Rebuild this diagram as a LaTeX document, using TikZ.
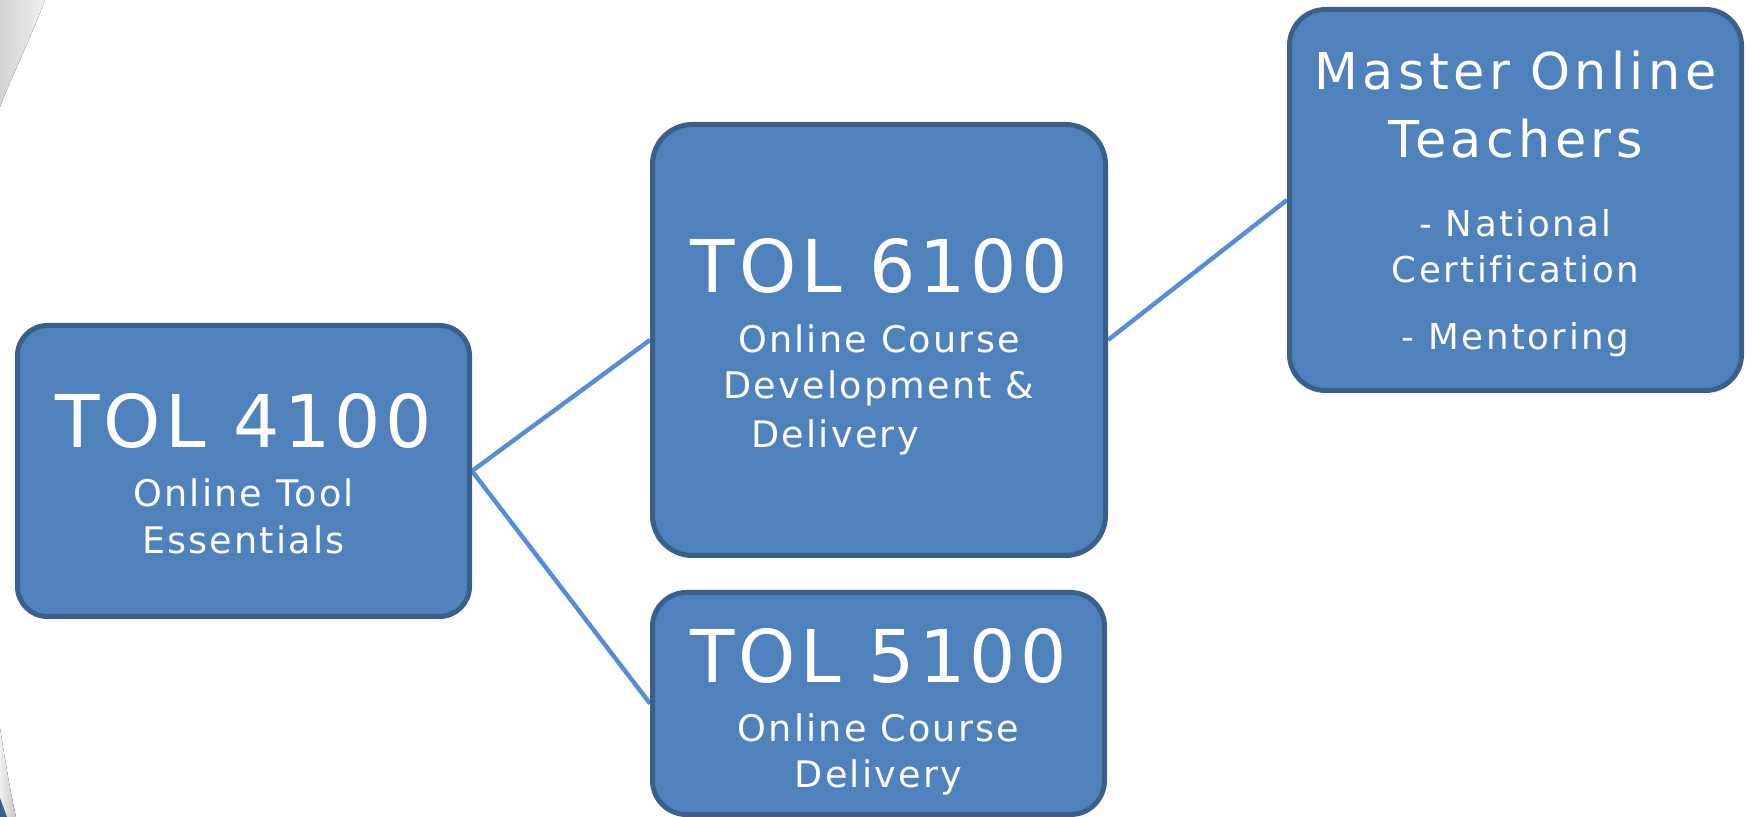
\documentclass[tikz,border=0pt]{standalone}
\usepackage{fontspec}
\setmainfont{DejaVu Sans}[LetterSpace=6,Ligatures=NoCommon]
\usetikzlibrary{backgrounds}
\definecolor{boxfill}{HTML}{4F81BD}
\definecolor{boxline}{HTML}{3A5F8B}
\definecolor{connblue}{HTML}{558ED5}
\begin{document}
\begin{tikzpicture}[x=0.5pt,y=-0.5pt,
  box/.style={draw=boxline, fill=boxfill, line width=2.5pt, inner sep=0pt, minimum width=226pt},
  big/.style={text=white, anchor=base, inner sep=0pt, font=\fontsize{36.4}{40}\selectfont},
  sub/.style={text=white, anchor=base, inner sep=0pt, font=\fontsize{18.3}{22}\selectfont},
  mtitle/.style={text=white, anchor=base, inner sep=0pt, font=\fontsize{25.4}{30}\selectfont\addfontfeatures{LetterSpace=8.6}},
  bullet/.style={text=white, anchor=base, inner sep=0pt, font=\fontsize{17.8}{22}\selectfont\addfontfeatures{LetterSpace=7}},
  conn/.style={draw=connblue, line width=2.2pt}]
\useasboundingbox (0,0) rectangle (1752,817);
% boxes
\node[box, rounded corners=15pt, minimum width=226pt, minimum height=145.5pt] (b1) at (243.5,471) {};
\node[box, rounded corners=20pt, minimum width=226.5pt, minimum height=215.5pt] (b2) at (879,340) {};
\node[box, rounded corners=17pt, minimum width=226pt, minimum height=111pt] (b3) at (878.5,703.5) {};
\node[box, rounded corners=18pt, minimum width=226pt, minimum height=190.5pt] (b4) at (1515.5,200) {};
% texts
\node[big] (t1a) at (243.5,448) {TOL 4100};
\node[sub] (t1b) at (243.5,507) {Online Tool};
\node[sub] (t1c) at (243.5,554) {Essentials};
\node[big] (t2a) at (879,293) {TOL 6100};
\node[sub] (t2b) at (879,353) {Online Course};
\node[sub] (t2c) at (879,399) {Development \&};
\node[sub, anchor=base west] (t2d) at (751,448) {Delivery};
\node[big] (t3a) at (878.5,683) {TOL 5100};
\node[sub] (t3b) at (878.5,742) {Online Course};
\node[sub] (t3c) at (878.5,788) {Delivery};
\node[mtitle] (t4a) at (1515.5,90) {Master Online};
\node[mtitle] (t4b) at (1515.5,158) {Teachers};
\node[bullet] (t4c) at (1515.5,237) {- National};
\node[bullet] (t4d) at (1515.5,283) {Certif{}ication};
\node[bullet] (t4e) at (1515.5,350) {- Mentoring};
\begin{scope}[on background layer]
  \fill[left color=gray!35, right color=gray!12] (0,0) -- (45,0) .. controls (30,40) and (12,75) .. (0,107) -- cycle;
  \fill[left color=gray!12, right color=gray!45] (0,728) .. controls (5,760) and (10,790) .. (16,817) -- (0,817) -- cycle;
  \fill[boxline] (0,798) -- (7,817) -- (0,817) -- cycle;
  \draw[conn] (b1.east) -- (b2.west);
  \draw[conn] (b1.east) -- (b3.west);
  \draw[conn] (b2.east) -- (b4.west);
\end{scope}
\end{tikzpicture}
\end{document}
